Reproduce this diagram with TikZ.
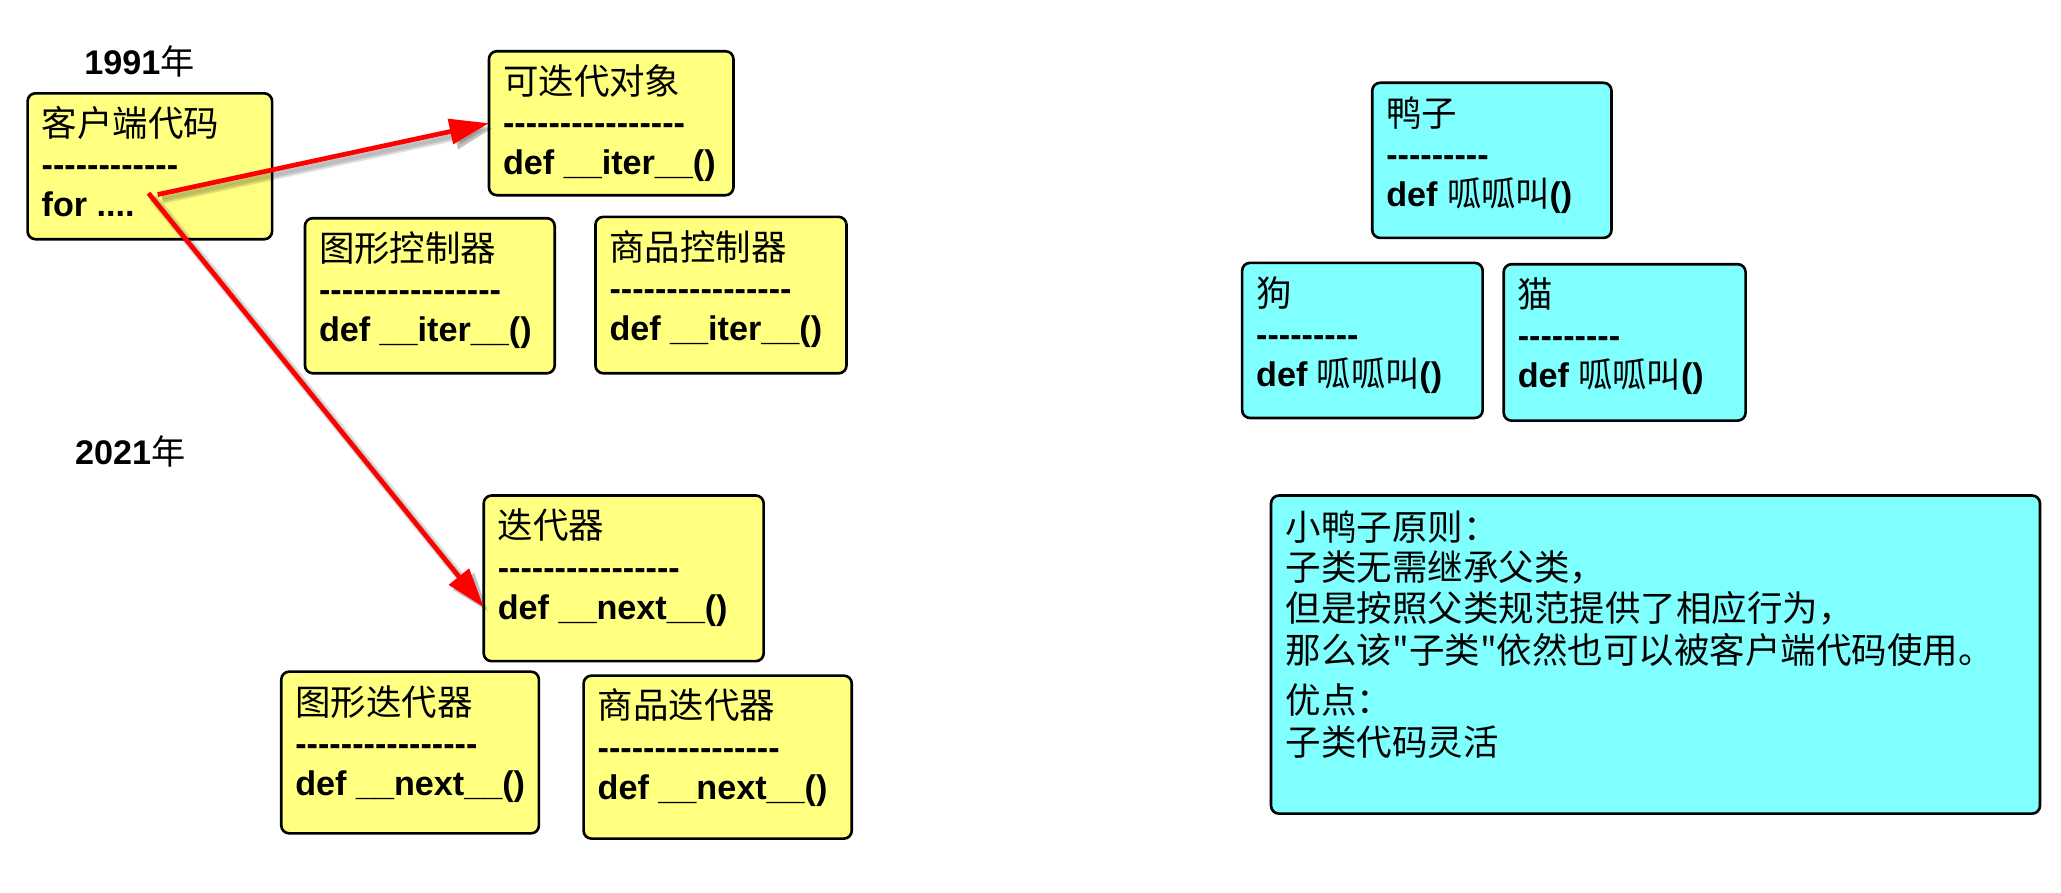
\documentclass[tikz,border=0pt]{standalone}
\usepackage{fontspec}
\setmainfont{Liberation Sans}
\newfontfamily\cjk{Noto Sans CJK SC}
\usetikzlibrary{calc,arrows.meta}

\definecolor{boxyellow}{RGB}{255,255,128}
\definecolor{boxcyan}{RGB}{128,255,255}
\definecolor{linkred}{RGB}{255,0,0}

% a row of separate hyphens (boxed, so they never merge into dashes)
\newcommand\hyphenrow[1]{\foreach \i in {1,...,#1}{\hbox{-}}}

% A class box: name, left, top, width, height, style, title, hyphens, method
\newcommand\classbox[9]{%
  \node[#6, minimum width=#4pt, minimum height=#5pt, anchor=north west] (#1) at (#2,#3) {};
  \node[titletext] (#1-title)  at ($(#1.north west)+(10.5,33)$) {#7};
  \node[codetext]  (#1-rule)   at ($(#1.north west)+(10.5,63.5)$) {\hyphenrow{#8}};
  \node[codetext]  (#1-method) at ($(#1.north west)+(10.5,94)$) {#9};
}

\begin{document}
\begin{tikzpicture}[x=1pt,y=-1pt,
  box/.style={draw=black,line width=2pt,rounded corners=6pt,inner sep=0pt,outer sep=0pt},
  ybox/.style={box,fill=boxyellow},
  cbox/.style={box,fill=boxcyan},
  titletext/.style={anchor=base west,inner sep=0pt,font=\fontsize{27}{32}\selectfont\cjk},
  codetext/.style={anchor=base west,inner sep=0pt,font=\fontsize{26}{32}\selectfont\bfseries},
  yeartext/.style={anchor=base west,inner sep=0pt,font=\fontsize{26}{32}\selectfont\bfseries},
  link/.style={draw=linkred,line width=3.6pt,-{Triangle[length=30pt,width=19pt]}},
  linkshadow/.style={draw=black,fill=black,line width=#1,opacity=0.13,
    -{Triangle[length=30pt,width=19pt]},transform canvas={shift={(3.5pt,-3.5pt)}}},
]
\path[fill=white,use as bounding box] (0,0) rectangle (1568,679);

% years
\node[yeartext] (y1991) at (64,57) {1991{\cjk\mdseries 年}};
\node[yeartext] (y2021) at (57,353.5) {2021{\cjk\mdseries 年}};

% 1991: iterable protocol
\classbox{client}{21}{71}{186}{111}{ybox}{客户端代码}{12}{for ....}
\classbox{iterable}{372}{39}{186}{109.5}{ybox}{可迭代对象}{16}{def \_\_iter\_\_()}
\classbox{shapectl}{232}{166}{190}{118}{ybox}{图形控制器}{16}{def \_\_iter\_\_()}
\classbox{goodsctl}{453}{165}{191}{119}{ybox}{商品控制器}{16}{def \_\_iter\_\_()}

% 2021: iterator protocol
\classbox{iterator}{368}{377}{213}{126}{ybox}{迭代器}{16}{def \_\_next\_\_()}
\classbox{shapeit}{214}{511}{196}{123}{ybox}{图形迭代器}{16}{def \_\_next\_\_()}
\classbox{goodsit}{444}{514}{204}{124}{ybox}{商品迭代器}{16}{def \_\_next\_\_()}

% duck typing
\classbox{duck}{1044}{63}{182}{118}{cbox}{鸭子}{9}{def {\cjk\mdseries 呱呱叫}()}
\classbox{dog}{945}{200}{183}{118}{cbox}{狗}{9}{def {\cjk\mdseries 呱呱叫}()}
\classbox{cat}{1144}{201}{184}{119}{cbox}{猫}{9}{def {\cjk\mdseries 呱呱叫}()}

\node[cbox, minimum width=585pt, minimum height=242pt, anchor=north west] (rule) at (967,377) {};
\node[titletext] (rule-l1) at (978,411) {小鸭子原则：};
\node[titletext] (rule-l2) at (978,442) {子类无需继承父类，};
\node[titletext] (rule-l3) at (978,473) {但是按照父类规范提供了相应行为，};
\node[titletext] (rule-l4) at (978,505) {那么该"子类"依然也可以被客户端代码使用。};
\node[titletext] (rule-l5) at (978,543) {优点：};
\node[titletext] (rule-l6) at (978,575) {子类代码灵活};

% arrows from the for-loop
\coordinate (forA) at (120,148);
\coordinate (forB) at (113,147);
\coordinate (nextIn) at ($(iterator.west)+(0,22)$);

\foreach \w in {7pt,4pt}{
  \draw[linkshadow=\w] (forA) -- (iterable.west);
  \draw[linkshadow=\w] (forB) -- (nextIn);
}
\draw[link] (forA) -- (iterable.west);
\draw[link] (forB) -- (nextIn);
\end{tikzpicture}
\end{document}
